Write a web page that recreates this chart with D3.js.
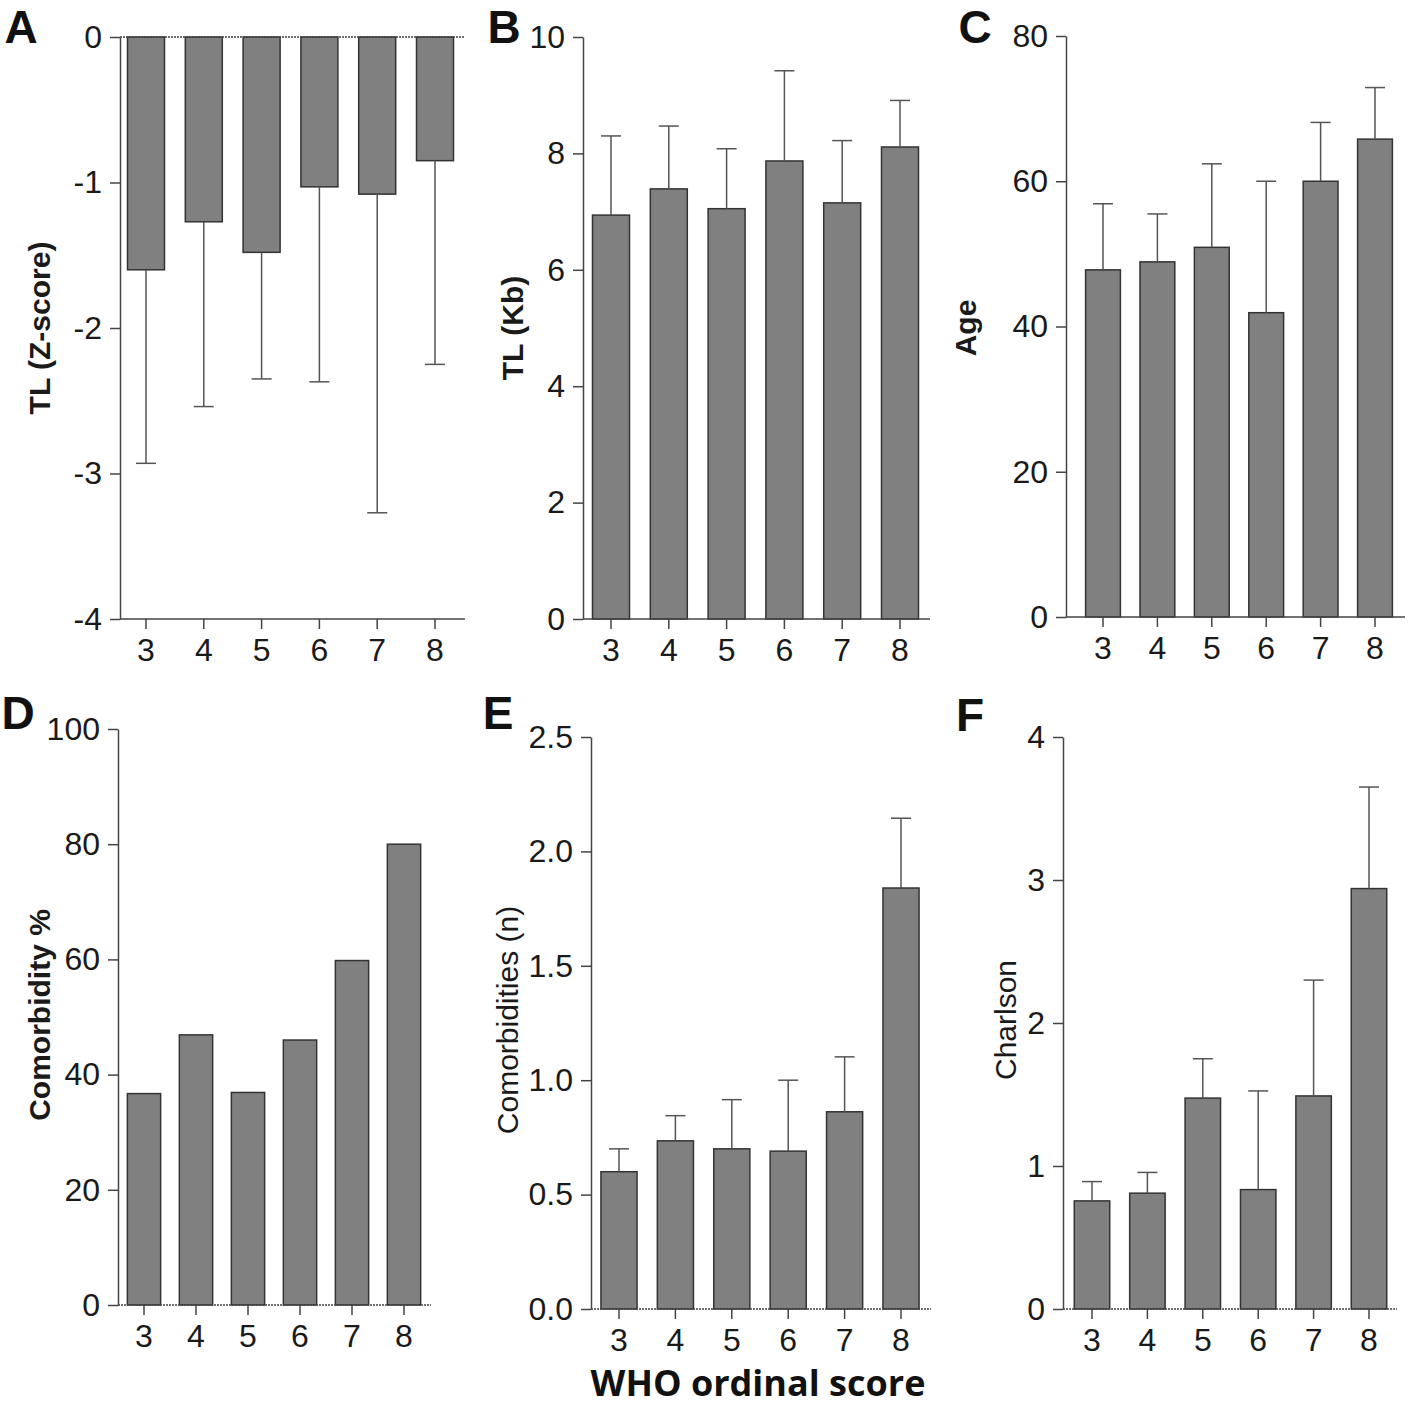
<!DOCTYPE html>
<html lang="en">
<head>
<meta charset="UTF-8">
<title>WHO ordinal score panels</title>
<script src="https://cdn.jsdelivr.net/npm/d3@7/dist/d3.min.js"></script>
<style>
  body { margin: 0; background: #fff; }
  svg text { font-family: "Liberation Sans", Arial, sans-serif; fill: #1a1a1a; }
  .axis path, .axis line { stroke: #444; stroke-width: 1.5px; }
  .axis text { font-size: 32px; fill: #1a1a1a; }
  .bar { fill: #808080; stroke: #333; stroke-width: 1.5px; }
  .err { stroke: #555; stroke-width: 1.5px; fill: none; }
  .baseline { stroke: #444; stroke-width: 1.5px; }
  .baseline.dotted { stroke-dasharray: 2 1; }
  .ytitle { font-size: 30px; font-weight: bold; }
  .panel-letter { font-family: "Liberation Sans", Arial, sans-serif; font-size: 46px; font-weight: bold; fill: #111; }
  .xtitle { font-family: "Open Sans", sans-serif; font-size: 36px; font-weight: bold; fill: #111; }
</style>
</head>
<body>
<svg id="fig" width="1416" height="1408"></svg>
<script>
// categories
const scores = ['3', '4', '5', '6', '7', '8'];

// A: telomere length z-score (mean, SD)
const tlZ   = [-1.60, -1.27, -1.48, -1.03, -1.08, -0.85];
const tlZSd = [1.33, 1.27, 0.87, 1.34, 2.19, 1.40];
const tlZTicks = [0, -1, -2, -3, -4];

// B: telomere length kb
const tlKb   = [6.94, 7.39, 7.05, 7.87, 7.15, 8.11];
const tlKbSd = [1.36, 1.08, 1.03, 1.55, 1.07, 0.80];
const tlKbTicks = [0, 2, 4, 6, 8, 10];

// C: age
const age   = [47.8, 48.9, 50.9, 41.9, 60.0, 65.8];
const ageSd = [9.1, 6.6, 11.5, 18.1, 8.1, 7.1];
const ageTicks = [0, 20, 40, 60, 80];

// D: comorbidity %
const comorbPct = [36.7, 46.9, 36.9, 46.0, 59.8, 80.0];
const comorbPctTicks = [0, 20, 40, 60, 80, 100];

// E: number of comorbidities
const comorbN   = [0.60, 0.735, 0.70, 0.69, 0.862, 1.84];
const comorbNSd = [0.10, 0.11, 0.215, 0.31, 0.24, 0.305];
const comorbNTicks = [0, 0.5, 1.0, 1.5, 2.0, 2.5];

// F: Charlson index
const charlson   = [0.756, 0.81, 1.475, 0.835, 1.49, 2.94];
const charlsonSd = [0.135, 0.145, 0.275, 0.69, 0.81, 0.71];
const charlsonTicks = [0, 1, 2, 3, 4];

const svg = d3.select('#fig');
const intFmt = d => String(d);

const panels = [
  { letter: 'A', values: tlZ, sd: tlZSd, ticks: tlZTicks, domain: [-4, 0], title: 'TL (Z-score)', fmt: intFmt,
    box: { axisX: 120, axisEnd: 465, c0: 146, c5: 435, top: 37, bottom: 619 },
    letterPos: [21, 43], titlePos: [39, 328], zeroDotted: true },
  { letter: 'B', values: tlKb, sd: tlKbSd, ticks: tlKbTicks, domain: [0, 10], title: 'TL (Kb)', fmt: intFmt,
    box: { axisX: 583, axisEnd: 930, c0: 611, c5: 900, top: 37, bottom: 619 },
    letterPos: [504, 43], titlePos: [512, 328] },
  { letter: 'C', values: age, sd: ageSd, ticks: ageTicks, domain: [0, 80], title: 'Age', fmt: intFmt,
    box: { axisX: 1066, axisEnd: 1405, c0: 1103, c5: 1375, top: 36, bottom: 617 },
    letterPos: [975, 43], titlePos: [965, 328] },
  { letter: 'D', values: comorbPct, sd: null, ticks: comorbPctTicks, domain: [0, 100], title: 'Comorbidity %', fmt: intFmt,
    box: { axisX: 118, axisEnd: 431, c0: 144, c5: 404, top: 729, bottom: 1305 },
    letterPos: [18, 729], titlePos: [39, 1015], zeroDotted: true },
  { letter: 'E', values: comorbN, sd: comorbNSd, ticks: comorbNTicks, domain: [0, 2.5], title: 'Comorbidities (n)', fmt: d3.format('.1f'),
    box: { axisX: 591, axisEnd: 931, c0: 619, c5: 901, top: 737, bottom: 1309 },
    letterPos: [498, 729], titlePos: [507, 1020], zeroDotted: true, light: true },
  { letter: 'F', values: charlson, sd: charlsonSd, ticks: charlsonTicks, domain: [0, 4], title: 'Charlson', fmt: intFmt,
    box: { axisX: 1063, axisEnd: 1397, c0: 1092, c5: 1369, top: 737, bottom: 1309 },
    letterPos: [970, 731], titlePos: [1005, 1020], zeroDotted: true, light: true },
];

panels.forEach(drawPanel);

svg.append('text').attr('class', 'xtitle')
  .attr('x', 758).attr('y', 1396).attr('text-anchor', 'middle')
  .text('WHO ordinal score');

function drawPanel(p) {
  const b = p.box;
  const step = (b.c5 - b.c0) / (scores.length - 1);
  const x = d3.scaleBand().domain(scores)
    .range([b.c0 - step / 2, b.c5 + step / 2])
    .paddingInner(0.36).paddingOuter(0.18);
  const y = d3.scaleLinear().domain(p.domain).range([b.bottom, b.top]);
  const g = svg.append('g');

  // bars
  g.selectAll('.bar').data(scores).join('rect')
    .attr('class', 'bar')
    .attr('x', d => x(d))
    .attr('width', x.bandwidth())
    .attr('y', (d, i) => Math.min(y(0), y(p.values[i])))
    .attr('height', (d, i) => Math.abs(y(p.values[i]) - y(0)));

  // error bars (one-sided, away from zero)
  if (p.sd) {
    const cap = 10;
    const end = i => p.values[i] + Math.sign(p.values[i]) * p.sd[i];
    const cx = d => x(d) + x.bandwidth() / 2;
    const errs = g.selectAll('.errg').data(scores).join('g');
    errs.append('line').attr('class', 'err')
      .attr('x1', cx).attr('x2', cx)
      .attr('y1', (d, i) => y(p.values[i]))
      .attr('y2', (d, i) => y(end(i)));
    errs.append('line').attr('class', 'err')
      .attr('x1', d => cx(d) - cap)
      .attr('x2', d => cx(d) + cap)
      .attr('y1', (d, i) => y(end(i)))
      .attr('y2', (d, i) => y(end(i)));
  }

  // x axis (ticks + labels), line drawn separately to span the frame
  const xAxisY = y(p.domain[0]);
  g.append('g').attr('class', 'axis')
    .attr('transform', `translate(0,${xAxisY})`)
    .call(d3.axisBottom(x).tickSize(10).tickPadding(9).tickSizeOuter(0))
    .call(a => a.select('.domain').remove());
  g.append('line').attr('class', 'baseline' + (p.zeroDotted && p.domain[0] === 0 ? ' dotted' : ''))
    .attr('x1', b.axisX).attr('x2', b.axisEnd)
    .attr('y1', xAxisY).attr('y2', xAxisY);
  if (p.domain[0] !== 0) {
    g.append('line').attr('class', 'baseline dotted')
      .attr('x1', b.axisX).attr('x2', b.axisEnd)
      .attr('y1', y(0)).attr('y2', y(0));
  }

  // y axis
  g.append('g').attr('class', 'axis')
    .attr('transform', `translate(${b.axisX},0)`)
    .call(d3.axisLeft(y).tickValues(p.ticks).tickSize(10).tickPadding(8).tickSizeOuter(0).tickFormat(p.fmt));

  // y title
  g.append('text').attr('class', 'ytitle')
    .attr('transform', `translate(${p.titlePos[0]},${p.titlePos[1]}) rotate(-90)`)
    .attr('text-anchor', 'middle').attr('dy', '0.36em')
    .style('font-weight', p.light ? 'normal' : 'bold')
    .text(p.title);

  // panel letter
  svg.append('text').attr('class', 'panel-letter')
    .attr('x', p.letterPos[0]).attr('y', p.letterPos[1])
    .attr('text-anchor', 'middle')
    .text(p.letter);
}
</script>
</body>
</html>
